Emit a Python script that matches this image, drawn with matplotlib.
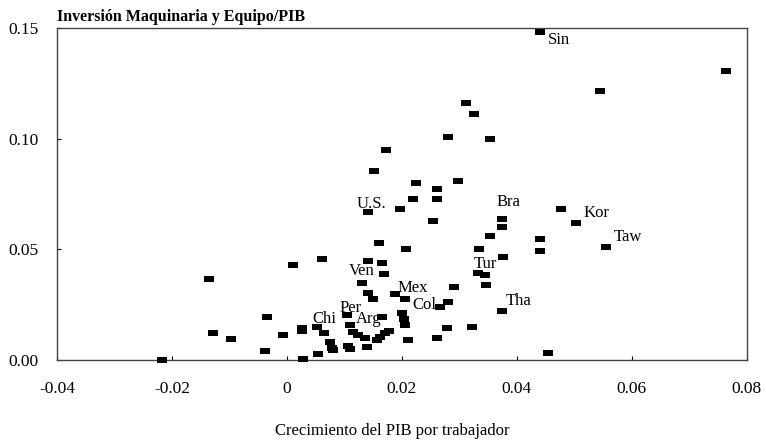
import matplotlib
matplotlib.use('Agg')
import matplotlib.pyplot as plt
from matplotlib.path import Path

# Crecimiento del PIB por trabajador (x) vs Inversion en maquinaria y equipo / PIB (y)
growth = [0.0440, 0.0763, 0.0544, 0.0311, 0.0325, 0.0280, 0.0353, 0.0172, 0.0151,
          0.0224, 0.0297, 0.0261, 0.0261, 0.0219, 0.0197, 0.0141, 0.0254, 0.0207,
          0.0160, 0.0010, 0.0061, -0.0136, 0.0141, 0.0165, 0.0169, 0.0130, 0.0141,
          0.0150, 0.0188, 0.0205, 0.0200, 0.0203, 0.0205, 0.0165, 0.0210, 0.0261,
          0.0278, 0.0322, 0.0266, 0.0280, 0.0290, 0.0346, 0.0332, 0.0344, 0.0376,
          0.0334, 0.0353, 0.0374, 0.0374, 0.0374, 0.0454, 0.0440, 0.0440, 0.0477,
          0.0503, 0.0555, -0.0217, -0.0129, -0.0097, -0.0035, -0.0038, -0.0007,
          0.0026, 0.0026, 0.0028, 0.0054, 0.0052, 0.0064, 0.0075, 0.0078, 0.0080,
          0.0106, 0.0110, 0.0104, 0.0110, 0.0115, 0.0123, 0.0136, 0.0139, 0.0157,
          0.0162, 0.0170, 0.0177]
investment = [0.1482, 0.1306, 0.1216, 0.1161, 0.1112, 0.1008, 0.0999, 0.0949, 0.0854,
              0.0800, 0.0809, 0.0773, 0.0728, 0.0728, 0.0682, 0.0669, 0.0628, 0.0502,
              0.0529, 0.0429, 0.0456, 0.0366, 0.0447, 0.0438, 0.0389, 0.0348, 0.0303,
              0.0276, 0.0298, 0.0276, 0.0212, 0.0185, 0.0158, 0.0194, 0.0090, 0.0099,
              0.0145, 0.0149, 0.0239, 0.0262, 0.0330, 0.0339, 0.0393, 0.0384, 0.0465,
              0.0502, 0.0560, 0.0637, 0.0601, 0.0221, 0.0032, 0.0547, 0.0493, 0.0682,
              0.0619, 0.0511, 0.0000, 0.0122, 0.0095, 0.0194, 0.0041, 0.0113,
              0.0145, 0.0131, 0.0005, 0.0027, 0.0149, 0.0122, 0.0081, 0.0054, 0.0045,
              0.0063, 0.0050, 0.0203, 0.0158, 0.0127, 0.0113, 0.0099, 0.0059, 0.0090,
              0.0104, 0.0122, 0.0131]

# country labels: (text, index of point, offset in points)
labels = [("Sin", 0, (5.5, -6)), ("U.S.", 15, (-8, 6)), ("Ven", 22, (-14, -7)),
          ("Per", 73, (-5, 5)), ("Arg", 74, (4, 4)), ("Chi", 66, (-3, 6)),
          ("Mex", 28, (1.5, 4)), ("Col", 38, (-20, 1.5)), ("Tur", 42, (-3, 6.5)),
          ("Tha", 49, (3, 7)), ("Bra", 47, (-4, 12)), ("Kor", 54, (5, 7)),
          ("Taw", 55, (5.5, 7))]

xticks = [-0.04, -0.02, 0, 0.02, 0.04, 0.06, 0.08]
xticklabels = ["-0.04", "-0.02", "0", "0.02", "0.04", "0.06", "0.08"]
yticks = [0.00, 0.05, 0.10, 0.15]
yticklabels = ["0.00", "0.05", "0.10", "0.15"]

plt.rcParams['font.family'] = ['Liberation Serif', 'DejaVu Serif']

fig = plt.figure(figsize=(7.66, 4.41), dpi=100)
ax = fig.add_axes([0.0744, 0.1837, 0.9006, 0.7528])

rect = Path([(-1, -0.5), (1, -0.5), (1, 0.5), (-1, 0.5), (-1, -0.5)],
            [Path.MOVETO, Path.LINETO, Path.LINETO, Path.LINETO, Path.CLOSEPOLY])
ax.scatter(growth, investment, marker=rect, s=60, color='black', linewidths=0,
           zorder=3, clip_on=False)

for name, i, off in labels:
    ax.annotate(name, (growth[i], investment[i]), xytext=off, textcoords='offset points',
                fontsize=12, ha='left', va='center', color='black')

ax.set_xlim(-0.04, 0.08)
ax.set_ylim(0.0, 0.15)
ax.set_xticks(xticks)
ax.set_xticklabels(xticklabels)
ax.set_yticks(yticks)
ax.set_yticklabels(yticklabels)
ax.tick_params(direction='in', length=3, width=0.8, labelsize=12.5)
ax.tick_params(axis='x', pad=15)
ax.tick_params(axis='y', pad=13)

for sp in ax.spines.values():
    sp.set_linestyle((0, (1, 1)))
    sp.set_linewidth(1.0)
    sp.set_color('#444444')

fig.text(0.0744, 0.9615, "Inversión Maquinaria y Equipo/PIB", fontsize=11.5,
         fontweight='bold', ha='left', va='center')
fig.text(0.512, 0.0227, "Crecimiento del PIB por trabajador", fontsize=12,
         ha='center', va='center')

fig.savefig('out.png', dpi=100)
